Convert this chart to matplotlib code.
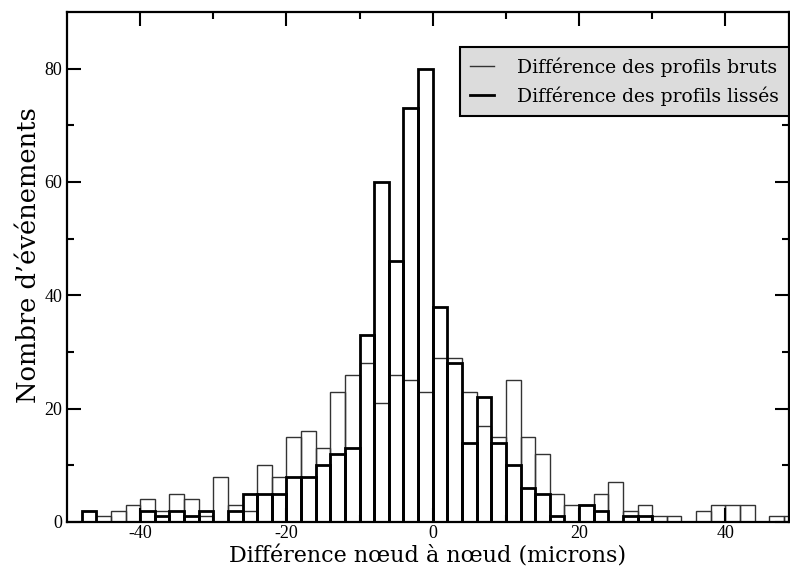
import numpy as np
import matplotlib.pyplot as plt
from matplotlib.lines import Line2D

# bin left edges (width 2 microns)
edges = np.arange(-50, 50, 2)

raw = [0, 2, 1, 2, 3, 4, 2, 5, 4, 1,
       8, 3, 2, 10, 8, 15, 16, 13, 23, 26,
       28, 21, 26, 25, 23, 29, 29, 23, 17, 15,
       25, 15, 12, 5, 3, 3, 5, 7, 2, 3,
       1, 1, 0, 2, 3, 3, 3, 0, 1, 1]

smooth = [0, 2, 0, 0, 0, 2, 1, 2, 1, 2,
          0, 2, 5, 5, 5, 8, 8, 10, 12, 13,
          33, 60, 46, 73, 80, 38, 28, 14, 22, 14,
          10, 6, 5, 1, 0, 3, 2, 0, 1, 1,
          0, 0, 0, 0, 0, 0, 0, 0, 0, 0]

plt.rcParams['font.family'] = ['Liberation Serif', 'DejaVu Serif']
plt.rcParams['axes.unicode_minus'] = False

fig = plt.figure(figsize=(7.9, 5.75), dpi=100)
ax = fig.add_axes([67 / 790, 1 - 522 / 575, 722 / 790, 510 / 575])

# raw profiles: thin outlines, smoothed: thick outlines
ax.bar(edges, raw, width=2, align='edge', fill=False, edgecolor='#333333', linewidth=1.0)
ax.bar(edges, smooth, width=2, align='edge', fill=False, edgecolor='black', linewidth=2.0)

ax.set_xlim(-50, 48.7)
ax.set_ylim(0, 90)
ax.set_xticks([-40, -20, 0, 20, 40])
ax.set_xticks([-30, -10, 10, 30], minor=True)
ax.set_yticks([0, 20, 40, 60, 80])
ax.set_yticks([10, 30, 50, 70], minor=True)
ax.tick_params(which='both', direction='in', top=True, right=True, width=1.5, labelsize=13)
ax.tick_params(which='major', length=10)
ax.tick_params(which='minor', length=5)
ax.tick_params(axis='x', pad=2)
for s in ax.spines.values():
    s.set_linewidth(1.6)

serif = ['DejaVu Serif']
ax.set_xlabel('Différence nœud à nœud (microns)', fontsize=16, family=serif, labelpad=3)
ax.set_ylabel('Nombre d\u2019événements', fontsize=18.5, family=serif)
ax.yaxis.set_label_coords(-0.036, 0.524)

handles = [Line2D([], [], color='#333333', lw=1.0),
           Line2D([], [], color='black', lw=2.0)]
leg = ax.legend(handles, ['Différence des profils bruts', 'Différence des profils lissés'],
                loc='upper right', bbox_to_anchor=(1.0, 0.931), borderaxespad=0,
                prop={'family': serif, 'size': 13.5}, frameon=True, fancybox=False,
                handlelength=1.3, handletextpad=1.2, borderpad=0.55, labelspacing=0.5)
leg.get_frame().set_facecolor('#dcdcdc')
leg.get_frame().set_edgecolor('black')
leg.get_frame().set_linewidth(1.5)
leg.get_frame().set_alpha(1)

fig.savefig('out.png', dpi=100)
